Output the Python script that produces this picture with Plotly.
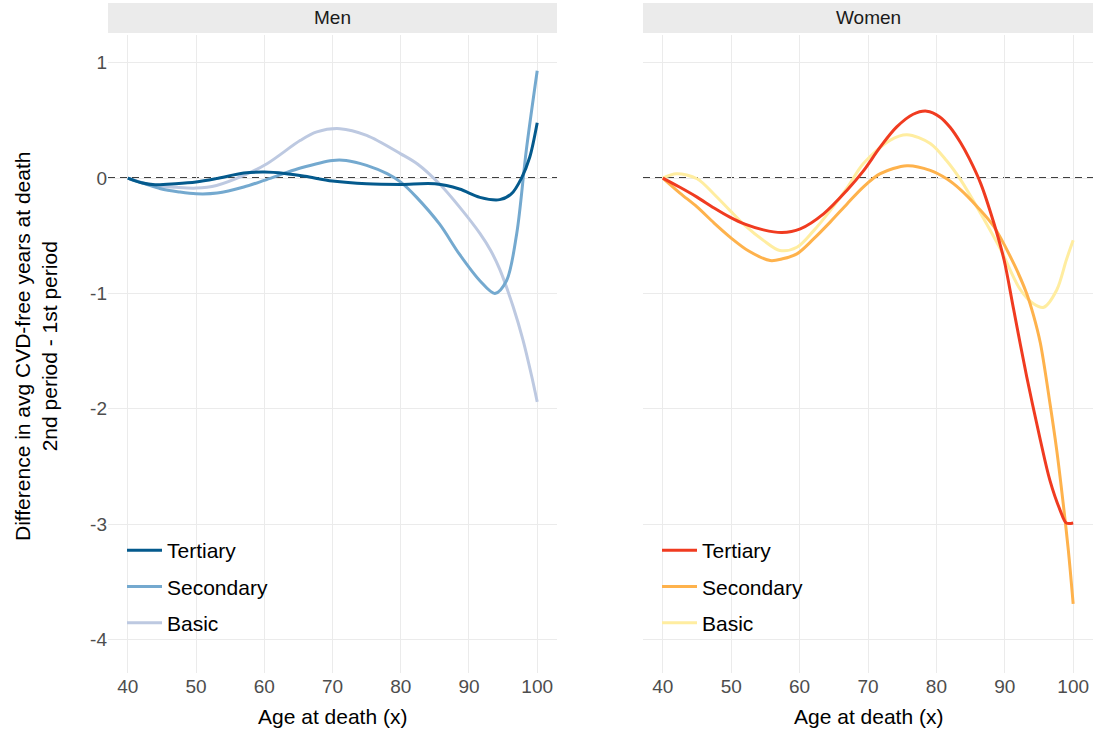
import plotly.graph_objects as go

# ---------------- data ----------------
men_tertiary_age = [40, 42, 44, 47, 50, 53, 57, 60, 63, 66, 70, 75, 80, 85, 88.6, 91.6, 94.5, 96.2, 97.7, 98.9, 100]
men_tertiary_val = [0, -0.04, -0.058, -0.05, -0.035, -0.005, 0.043, 0.052, 0.04, 0.015, -0.026, -0.05, -0.055, -0.05, -0.095, -0.167, -0.187, -0.138, 0.0, 0.18, 0.48]

men_secondary_age = [40, 42.5, 44.8, 47.5, 50, 53.1, 57, 60, 62.8, 65.3, 70, 72, 75, 78, 80, 82.3, 85.7, 88.6, 91.6, 93.8, 95.5, 97, 98.4, 100]
men_secondary_val = [0, -0.05, -0.093, -0.12, -0.136, -0.13, -0.078, -0.02, 0.038, 0.087, 0.153, 0.153, 0.11, 0.038, -0.035, -0.165, -0.4, -0.66, -0.89, -1.0, -0.89, -0.48, 0.24, 0.93]

men_basic_age = [40, 43.8, 47, 50, 53, 57, 60.4, 65.3, 67.7, 71.1, 75, 80, 82.5, 85.7, 88.6, 91.6, 93.2, 94.5, 96.5, 97.9, 99.2, 100]
men_basic_val = [0, -0.064, -0.08, -0.087, -0.064, 0.023, 0.124, 0.327, 0.4, 0.428, 0.37, 0.21, 0.12, -0.052, -0.25, -0.48, -0.63, -0.79, -1.12, -1.4, -1.72, -1.94]

women_tertiary_age = [40, 42.5, 45, 47.5, 49.8, 52, 54.7, 57.4, 60.1, 63.5, 66.9, 69.3, 71.8, 74.2, 76.6, 78.6, 80.5, 82, 83.5, 84.8, 86.5, 88.4, 89.9, 91.3, 93.2, 95.2, 96.6, 98.1, 99, 100]
women_tertiary_val = [0, -0.08, -0.165, -0.26, -0.339, -0.4, -0.449, -0.472, -0.44, -0.31, -0.107, 0.06, 0.27, 0.443, 0.553, 0.58, 0.53, 0.44, 0.31, 0.17, -0.05, -0.39, -0.71, -1.14, -1.72, -2.27, -2.62, -2.88, -2.99, -2.99]

women_secondary_age = [40, 42.5, 45, 47.5, 50, 52.5, 55.7, 57.5, 59.6, 62, 64.5, 67, 69.3, 71.8, 75.7, 79.1, 81.5, 83.6, 86, 88.4, 91.3, 93.2, 94.2, 95.2, 96.6, 97.6, 98.6, 99.3, 100]
women_secondary_val = [0, -0.13, -0.25, -0.39, -0.52, -0.63, -0.715, -0.7, -0.657, -0.53, -0.38, -0.22, -0.078, 0.038, 0.107, 0.067, -0.006, -0.104, -0.25, -0.42, -0.74, -1.0, -1.19, -1.43, -1.95, -2.36, -2.85, -3.23, -3.69]

women_basic_age = [40, 42, 45, 47.5, 49.8, 52, 54.7, 57.1, 59.6, 62, 64.5, 67, 69.3, 73.2, 75.7, 79.1, 81.5, 83.6, 86.5, 89.4, 92.3, 94.2, 95.7, 97.6, 99, 100]
women_basic_val = [0, 0.038, -0.006, -0.14, -0.28, -0.41, -0.54, -0.628, -0.6, -0.46, -0.28, -0.08, 0.124, 0.327, 0.376, 0.3, 0.15, -0.02, -0.31, -0.62, -0.97, -1.09, -1.12, -0.97, -0.71, -0.54]

x_ticks = [40, 50, 60, 70, 80, 90, 100]
y_ticks = [1, 0, -1, -2, -3, -4]
y_tick_labels = ["1", "0", "-1", "-2", "-3", "-4"]
panels = ["Men", "Women"]
series_names = ["Tertiary", "Secondary", "Basic"]
men_colors = ["#045a8d", "#74a9cf", "#bdc9e1"]
women_colors = ["#f03b20", "#feb24c", "#ffeda0"]

# ---------------- figure ----------------
FONT = "Liberation Sans, Arial, sans-serif"
fig = go.Figure()

men = [(men_tertiary_age, men_tertiary_val), (men_secondary_age, men_secondary_val), (men_basic_age, men_basic_val)]
women = [(women_tertiary_age, women_tertiary_val), (women_secondary_age, women_secondary_val), (women_basic_age, women_basic_val)]

# draw order: Basic first so Tertiary is on top
for i in [2, 1, 0]:
    a, v = men[i]
    fig.add_trace(go.Scatter(x=a, y=v, mode="lines", name=series_names[i],
                             line=dict(color=men_colors[i], width=3, shape="spline", smoothing=0.9),
                             xaxis="x", yaxis="y", legend="legend", legendrank=i + 1,
                             legendgroup="m" + str(i)))
for i in [2, 1, 0]:
    a, v = women[i]
    fig.add_trace(go.Scatter(x=a, y=v, mode="lines", name=series_names[i],
                             line=dict(color=women_colors[i], width=3, shape="spline", smoothing=0.9),
                             xaxis="x2", yaxis="y2", legend="legend2", legendrank=i + 1,
                             legendgroup="w" + str(i)))

W, H = 1095, 733
top_px, bot_px = 35, 673
ydom = [1 - bot_px / H, 1 - top_px / H]
xdom1 = [108 / W, 557 / W]
xdom2 = [643 / W, 1093 / W]

axis_common = dict(
    range=[37.1, 102.9], tickvals=x_ticks, showgrid=True, gridcolor="#ebebeb", gridwidth=1,
    zeroline=False, showline=False, ticks="",
    tickfont=dict(family=FONT, size=19, color="#4d4d4d"),
)
yaxis_common = dict(
    range=[-4.29, 1.24], tickvals=y_ticks, ticktext=y_tick_labels, showgrid=True,
    gridcolor="#ebebeb", gridwidth=1, zeroline=False, showline=False, ticks="",
    tickfont=dict(family=FONT, size=19, color="#4d4d4d"), domain=ydom,
)

legend_common = dict(y=1 - 530 / H, xanchor="left", yanchor="top",
                     bgcolor="rgba(0,0,0,0)", font=dict(family=FONT, size=21, color="black"),
                     tracegroupgap=6, itemwidth=35, traceorder="grouped")

fig.update_layout(
    width=W, height=H,
    margin=dict(l=0, r=0, t=0, b=0),
    paper_bgcolor="white", plot_bgcolor="white",
    font=dict(family=FONT, size=19, color="black"),
    xaxis=dict(domain=xdom1, anchor="y", **axis_common),
    yaxis=dict(anchor="x", **yaxis_common),
    xaxis2=dict(domain=xdom2, anchor="y2", **axis_common),
    yaxis2=dict(anchor="x2", showticklabels=False, **yaxis_common),
    legend=dict(x=xdom1[0] + 14 / W, **legend_common),
    legend2=dict(x=xdom2[0] + 14 / W, **legend_common),
    showlegend=True,
)

# zero dashed lines
for xr, yr in [("x domain", "y"), ("x2 domain", "y2")]:
    fig.add_shape(type="line", xref=xr, yref=yr, x0=0, x1=1, y0=0, y1=0,
                  line=dict(color="black", width=1.5, dash="7px,5px"), layer="below")

# strips
for dom, label in zip([xdom1, xdom2], panels):
    fig.add_shape(type="rect", xref="paper", yref="paper", x0=dom[0], x1=dom[1],
                  y0=1 - 33 / H, y1=1 - 3 / H, fillcolor="#ebebeb", line=dict(width=0), layer="below")
    fig.add_annotation(xref="paper", yref="paper", x=(dom[0] + dom[1]) / 2, y=1 - 18 / H,
                       text=label, showarrow=False, xanchor="center", yanchor="middle",
                       font=dict(family=FONT, size=19, color="#1a1a1a"))

# axis titles
for dom in [xdom1, xdom2]:
    fig.add_annotation(xref="paper", yref="paper", x=(dom[0] + dom[1]) / 2, y=1 - 716 / H,
                       text="Age at death (x)", showarrow=False, xanchor="center", yanchor="middle",
                       font=dict(family=FONT, size=21, color="black"))

fig.add_annotation(xref="paper", yref="paper", x=36 / W, y=1 - 347 / H,
                   text="Difference in avg CVD-free years at death<br>2nd period - 1st period",
                   showarrow=False, textangle=-90, xanchor="center", yanchor="middle",
                   font=dict(family=FONT, size=21, color="black"))

fig.write_html("out.html")
